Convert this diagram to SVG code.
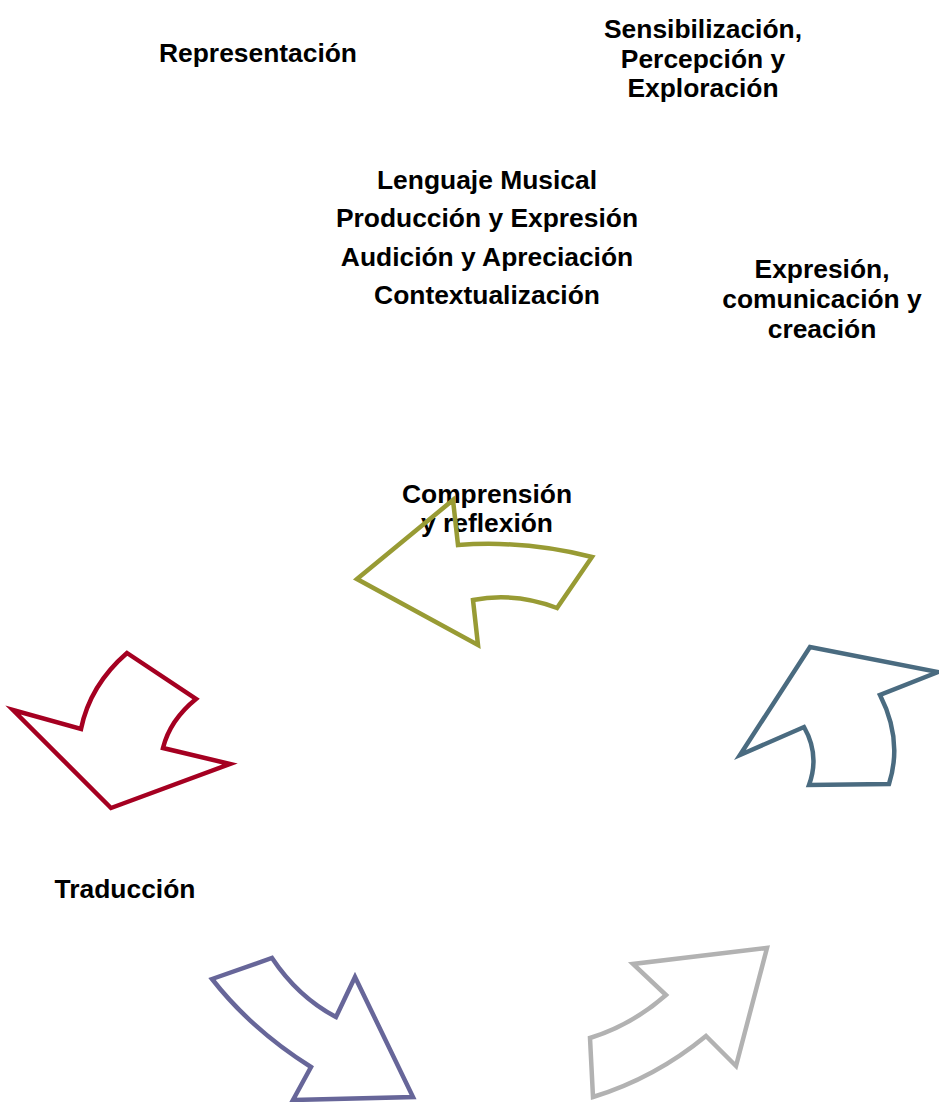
<svg xmlns="http://www.w3.org/2000/svg" width="939" height="1102" viewBox="0 0 939 1102">
  <style>
    .lbl { font-family: "Liberation Sans", Arial, sans-serif; font-weight: bold; font-size: 26.4px; fill: #000; text-anchor: middle; }
    .arrow { fill: none; stroke-width: 4.5; stroke-linejoin: miter; }
  </style>
  <rect width="939" height="1102" fill="#ffffff"/>

  <g id="node-representacion">
    <text class="lbl" x="258" y="62">Representación</text>
  </g>
  <g id="node-sensibilizacion">
    <text class="lbl" x="703" y="38">Sensibilización,</text>
    <text class="lbl" x="703" y="68">Percepción y</text>
    <text class="lbl" x="703" y="97">Exploración</text>
  </g>
  <g id="node-ejes">
    <text class="lbl" x="487" y="189">Lenguaje Musical</text>
    <text class="lbl" x="487" y="227">Producción y Expresión</text>
    <text class="lbl" x="487" y="266">Audición y Apreciación</text>
    <text class="lbl" x="487" y="304">Contextualización</text>
  </g>
  <g id="node-expresion">
    <text class="lbl" x="822" y="278">Expresión,</text>
    <text class="lbl" x="822" y="308">comunicación y</text>
    <text class="lbl" x="822" y="338">creación</text>
  </g>
  <g id="node-comprension">
    <text class="lbl" x="487" y="503">Comprensión</text>
    <text class="lbl" x="487" y="532">y reflexión</text>
  </g>
  <g id="node-traduccion">
    <text class="lbl" x="125" y="898">Traducción</text>
  </g>

  <g id="connectors">
    <!-- olive: pointing left -->
    <path class="arrow" stroke="#989B34" d="M357,579 L453,500 L458,545 Q525,540 592,557 L557,608 Q515,592 473,600 L478,645 Z"/>
    <!-- slate blue: pointing up-right -->
    <path class="arrow" stroke="#4A6B80" d="M740,755 L810,647 L938,672 L880,695 Q903,740 889,784 L809,785 Q820,755 804,727 Z"/>
    <!-- red: pointing down-left -->
    <path class="arrow" stroke="#A50021" d="M127,653 L196,699 Q170,720 163,748 L230,764 L111,808 L13,710 L81,729 Q90,685 127,653 Z"/>
    <!-- purple: pointing down-right -->
    <path class="arrow" stroke="#676699" d="M212,979 L272,958 Q298,997 336,1017 L355,977 L413,1097 L293,1100 L311,1067 Q252,1030 212,979 Z"/>
    <!-- grey: pointing up-right -->
    <path class="arrow" stroke="#B2B2B2" d="M593,1097 L590,1038 Q632,1025 666,995 L633,964 L767,948 L736,1066 L706,1036 Q655,1078 593,1097 Z"/>
  </g>
</svg>
